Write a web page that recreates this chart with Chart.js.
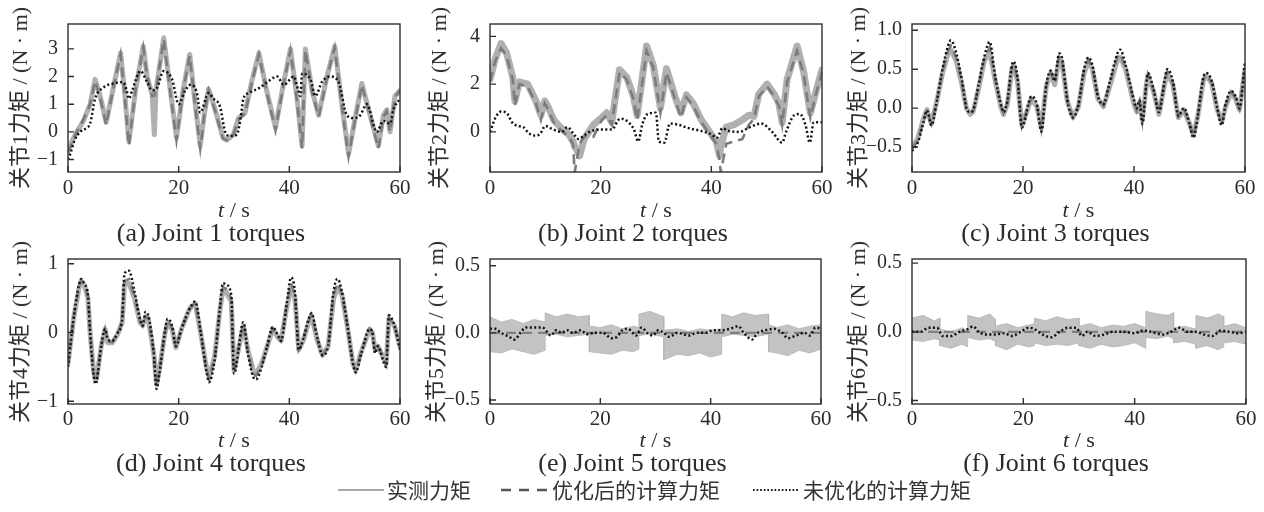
<!DOCTYPE html>
<html><head><meta charset="utf-8">
<script src="https://cdn.jsdelivr.net/npm/chart.js@4.4.1/dist/chart.umd.min.js"></script>
<style>
html,body{margin:0;padding:0;background:#fff;}
#root{position:relative;width:1264px;height:512px;overflow:hidden;background:#fff;}
#root canvas{position:absolute;}
.t{position:absolute;white-space:nowrap;color:#2b2b2b;font-family:"Liberation Serif","Noto Sans CJK SC",serif;line-height:1;}
.c{transform:translate(-50%,-50%);}
.yl{transform:translate(-50%,-50%) rotate(-90deg);font-size:22px;}
.xt{font-size:22px;}
.cap{font-size:26px;}
.lg{font-family:"Noto Sans CJK SC",sans-serif;font-size:21px;color:#333;transform:translateY(-50%);}
svg{position:absolute;overflow:visible;}
</style></head><body><div id="root"></div>
<script>
// ---------- shared ticks ----------
const xTickVals = [0, 20, 40, 60];
const yTicksA = [-1, 0, 1, 2, 3];
const yTicksB = [0, 2, 4];
const yTicksC = [-0.5, 0.0, 0.5, 1.0];
const yTicksD = [-1, 0, 1];
const yTicksE = [-0.5, 0.0, 0.5];
const yTicksF = [-0.5, 0.0, 0.5];

// ---------- (a) joint 1 ----------
const a_t = [0,0.8,1.6,2.8,4.0,4.9,5.8,6.9,8.2,9.5,10.2,11.0,12.2,13.6,14.3,15.2,15.6,15.9,17.3,18.5,19.6,20.8,22.0,23.0,23.9,24.6,25.4,26.6,28.0,28.7,29.9,30.8,32.0,33.3,34.5,36.0,37.5,38.9,40.2,41.4,42.3,42.9,44.1,45.3,46.8,48.2,49.5,50.7,51.9,53.1,54.6,56.1,57.0,57.6,58.2,59.1,60];
const a_meas = [-0.7,-0.3,0.0,0.4,1.0,1.9,1.3,0.35,1.6,2.85,1.5,-0.35,1.5,3.1,2.0,1.35,-0.1,1.5,3.4,1.5,-0.2,1.5,2.8,1.0,-0.5,0.6,1.55,0.8,-0.2,-0.3,-0.1,0.5,0.7,1.9,2.85,1.4,0.15,1.7,3.0,1.2,-0.5,3.0,1.5,0.6,2.0,3.1,1.0,-0.8,0.5,1.75,0.6,-0.5,0.6,0.8,0.0,1.3,1.5];
const a_opt = [-0.75,-0.35,0.0,0.45,1.0,1.85,1.25,0.25,1.6,2.8,1.4,-0.5,1.5,3.05,2.0,1.3,1.3,1.5,3.35,1.4,-0.3,1.5,2.75,0.9,-0.6,0.55,1.5,0.75,-0.25,-0.3,-0.1,0.45,0.65,1.85,2.8,1.35,0.05,1.65,2.95,1.1,-0.6,2.95,1.45,0.55,1.95,3.05,0.9,-0.9,0.45,1.7,0.55,-0.6,0.55,0.75,0.0,1.25,1.5];
const a_tu = [0,0.4,1.2,2.2,3.4,4.0,4.9,6.4,8.2,10.0,10.6,11.0,11.6,13.1,14.3,15.2,16.1,17.3,18.8,20.0,21.2,22.1,23.3,23.9,25.4,26.3,27.5,28.4,29.3,30.5,31.2,31.7,32.6,34.7,36.0,37.8,39.0,40.8,41.6,42.0,42.3,43.8,44.7,45.9,47.4,48.9,50.4,51.6,52.8,54.0,55.8,57.0,57.6,58.2,58.8,60];
const a_unopt = [-1.0,-0.8,-0.3,0.0,0.15,0.3,1.2,1.6,1.75,1.8,1.5,1.2,1.5,2.2,1.8,1.5,1.6,2.2,1.9,1.0,1.5,1.7,1.4,0.7,1.4,1.2,0.9,0.0,-0.15,-0.1,0.5,1.2,1.4,1.6,1.8,2.0,1.7,2.0,1.5,1.3,2.1,1.9,1.3,1.8,2.0,1.8,0.6,0.5,0.6,1.0,0.0,0.4,0.35,0.3,0.8,1.2];

// ---------- (b) joint 2 ----------
const b_t = [0,1.0,2.0,3.0,4.1,4.5,5.3,6.8,8.3,9.2,9.9,10.6,11.5,12.7,14.2,15.0,15.3,16.2,17.0,18.7,20.2,21.1,22.0,23.4,24.7,25.9,26.6,28.3,29.5,30.8,31.9,33.4,34.5,35.5,36.7,38.2,39.7,40.9,41.5,41.7,42.7,44.1,45.6,46.8,47.7,48.6,50.1,51.3,52.2,52.8,53.7,55.5,56.7,57.6,57.9,58.8,60];
const b_meas = [2.2,3.1,3.7,3.3,2.3,1.3,2.1,2.0,1.3,0.7,1.3,1.0,0.5,0.2,-0.1,-0.4,-0.6,-1.0,-0.3,0.3,0.6,0.8,0.4,2.6,2.3,1.5,0.7,3.6,2.8,1.0,2.65,1.5,0.8,1.55,1.2,0.5,0.0,-0.4,-1.0,-0.6,0.2,0.3,0.5,0.7,0.65,1.6,2.0,1.6,1.2,0.4,2.2,3.6,2.5,1.2,0.8,1.6,2.6];
const b_opt = [2.1,3.0,3.5,3.2,2.2,1.1,2.0,1.9,1.2,0.5,1.2,0.9,0.4,0.1,-0.2,-0.5,-1.7,-0.5,-0.2,-0.2,0.5,0.7,0.3,2.5,2.2,1.4,0.5,3.4,2.7,0.8,2.5,1.4,0.6,1.45,1.1,0.4,-0.1,-0.5,-1.2,-1.7,-0.5,-0.4,-0.3,0.3,0.55,1.5,1.9,1.5,1.1,0.3,2.1,3.4,2.4,1.0,0.6,1.5,2.5];
const b_tu = [0,1,2,3,4,5,6,7,8,9,10,11,12,13,14,15,16,17,18,20,22,23.5,24.5,26,26.8,27.5,28.5,30,30.5,31.5,32.5,34,36,38,40,41,42,43,45,47,49,51,52.8,53.5,55,56,57,57.8,58.5,60];
const b_unopt = [0.0,0.6,0.85,0.8,0.4,0.25,0.2,-0.05,-0.15,-0.1,0.25,0.15,0.05,0.0,0.2,-0.05,-0.3,-0.15,0.0,0.1,0.1,0.55,0.5,0.1,-0.4,0.3,0.75,0.8,-0.4,-0.45,0.35,0.3,0.15,0.05,-0.1,-0.25,0.15,0.05,0.0,0.2,0.35,0.0,-0.45,0.0,0.7,0.75,0.3,-0.45,0.4,0.4];

// ---------- (c) joint 3 ----------
const c_t = [0,1,2,2.7,3.5,4.5,5.5,6.5,7,8,9,9.8,10.5,11,12,13,14,15,16,16.5,17.2,18,18.3,19,19.8,21.5,22.5,23.3,24.2,25,25.7,26.5,27,28,29,30,31,31.8,32.5,33.5,34.5,35.5,37,37.5,38.5,40,40.5,41,41.5,42.2,42.5,43.5,44.5,45.5,46,47,48,49,50,50.7,51.5,52.5,53,54,55,55.8,56.5,57.5,58.3,59,60];
const c_meas = [-0.5,-0.4,-0.15,-0.02,-0.2,0.1,0.45,0.7,0.75,0.6,0.3,0.0,-0.08,-0.05,0.25,0.6,0.72,0.35,0.02,-0.08,0.05,0.5,0.55,0.35,-0.22,0.12,0.02,-0.25,0.28,0.45,0.3,0.62,0.6,0.08,-0.12,0.02,0.45,0.6,0.5,0.12,0.02,0.25,0.62,0.65,0.5,0.05,-0.05,0.08,-0.15,0.28,0.42,0.22,-0.08,0.3,0.45,0.3,-0.12,-0.02,-0.2,-0.35,-0.1,0.35,0.42,0.32,-0.02,-0.18,0.02,0.2,0.12,-0.02,0.5];
const c_opt = [-0.52,-0.42,-0.17,-0.02,-0.2,0.1,0.47,0.74,0.8,0.64,0.32,0.0,-0.06,-0.04,0.27,0.62,0.78,0.37,0.03,-0.06,0.07,0.52,0.57,0.37,-0.23,0.13,0.03,-0.27,0.29,0.46,0.32,0.66,0.62,0.09,-0.12,0.03,0.47,0.62,0.52,0.13,0.03,0.27,0.66,0.7,0.52,0.07,-0.03,0.09,-0.17,0.29,0.43,0.23,-0.06,0.32,0.47,0.32,-0.11,-0.01,-0.2,-0.36,-0.1,0.37,0.43,0.33,-0.01,-0.2,0.03,0.21,0.13,-0.01,0.55];
const c_unopt = [-0.55,-0.45,-0.2,-0.03,-0.22,0.1,0.5,0.8,0.87,0.7,0.35,0.0,-0.05,-0.03,0.3,0.65,0.85,0.4,0.05,-0.05,0.1,0.55,0.6,0.4,-0.25,0.15,0.05,-0.3,0.3,0.48,0.35,0.7,0.65,0.1,-0.12,0.05,0.5,0.65,0.55,0.15,0.05,0.3,0.7,0.75,0.55,0.1,0.0,0.1,-0.2,0.3,0.45,0.25,-0.05,0.35,0.5,0.35,-0.1,0.0,-0.2,-0.38,-0.1,0.4,0.45,0.35,0.0,-0.22,0.05,0.22,0.15,0.0,0.6];

// ---------- (d) joint 4 ----------
const d_t = [0,1,2,2.4,3,3.6,4.0,4.6,5.0,5.2,6,6.7,7.2,8,9,9.8,10.2,11,12,13,13.5,14,14.5,15.5,16,16.5,17.5,18,18.8,19.5,20.5,22,23,24,25,25.5,26.5,27.5,28,28.5,29.5,30,31.7,32.5,33.5,34,35,36,37,38,38.5,39.5,40.3,41,41.7,42.5,43.5,44,45,46,47,48,48.7,49.5,50.5,51.5,52,53,54.5,55,55.5,56,57.5,58,59,60];
const d_meas = [-0.45,0.2,0.65,0.75,0.68,0.5,0.0,-0.55,-0.7,-0.65,-0.2,0.05,-0.15,-0.15,-0.02,0.15,0.7,0.72,0.5,0.15,0.1,0.2,0.2,-0.3,-0.75,-0.55,-0.02,0.15,0.05,-0.22,0.05,0.35,0.42,-0.02,-0.5,-0.65,-0.35,0.35,0.62,0.6,0.45,-0.55,0.1,-0.25,-0.55,-0.6,-0.45,-0.2,0.05,-0.08,-0.12,0.35,0.65,0.5,-0.25,-0.12,0.15,0.25,-0.1,-0.33,-0.2,0.5,0.65,0.55,0.08,-0.45,-0.55,-0.28,0.05,0.0,-0.25,-0.2,-0.45,0.2,0.1,-0.2];
const d_opt = [-0.47,0.2,0.67,0.76,0.69,0.52,0.0,-0.57,-0.72,-0.67,-0.2,0.05,-0.13,-0.14,-0.01,0.17,0.75,0.78,0.53,0.17,0.1,0.24,0.22,-0.3,-0.78,-0.57,-0.01,0.17,0.07,-0.21,0.05,0.35,0.43,-0.01,-0.52,-0.68,-0.37,0.37,0.66,0.64,0.5,-0.57,0.12,-0.27,-0.6,-0.63,-0.47,-0.2,0.06,-0.07,-0.12,0.37,0.72,0.55,-0.25,-0.11,0.17,0.26,-0.08,-0.33,-0.2,0.55,0.72,0.57,0.09,-0.45,-0.56,-0.29,0.05,0.0,-0.27,-0.2,-0.47,0.22,0.1,-0.22];
const d_unopt = [-0.5,0.2,0.7,0.78,0.7,0.55,0.0,-0.6,-0.75,-0.7,-0.2,0.05,-0.1,-0.12,0.0,0.2,0.85,0.9,0.6,0.2,0.1,0.3,0.25,-0.3,-0.82,-0.6,0.0,0.2,0.1,-0.2,0.05,0.35,0.45,0.0,-0.55,-0.72,-0.4,0.4,0.72,0.7,0.55,-0.6,0.15,-0.3,-0.65,-0.68,-0.5,-0.2,0.08,-0.05,-0.12,0.4,0.8,0.6,-0.25,-0.1,0.2,0.28,-0.05,-0.33,-0.2,0.6,0.78,0.6,0.1,-0.45,-0.58,-0.3,0.05,0.0,-0.3,-0.2,-0.5,0.25,0.1,-0.25];

// ---------- (e) joint 5 ----------
const e_bt = [0,2,4,6,8,10,10,12,14,16,18,18,20,22,24,26,27,27,29,31.5,31.5,34,36,38,40,42,42,44,46,48,50.5,50.5,52,54,56,58,60];
const e_up = [0.12,0.08,0.1,0.07,0.1,0.08,0.15,0.12,0.14,0.12,0.13,0.05,0.04,0.06,0.03,0.05,0.04,0.14,0.16,0.12,0.02,0.03,0.01,0.03,0.02,0.03,0.14,0.12,0.15,0.13,0.14,0.06,0.04,0.06,0.03,0.05,0.06];
const e_lo = [-0.14,-0.15,-0.12,-0.14,-0.16,-0.13,-0.02,-0.01,-0.03,-0.02,-0.01,-0.14,-0.15,-0.16,-0.13,-0.14,-0.12,-0.02,-0.01,-0.03,-0.2,-0.16,-0.17,-0.15,-0.18,-0.16,-0.03,-0.01,-0.02,-0.03,-0.01,-0.14,-0.15,-0.17,-0.13,-0.15,-0.12];
const e_to = [0,15,30,45,60];
const e_opt = [0.0,0.0,0.0,0.0,0.0];
const e_tu = [0,1,2,3.5,4.5,5.5,6.5,8,9.5,10.5,11,12,13,14,15,16.5,17.5,19,20.5,22,23,24,25,26.5,27.5,28.5,29.5,30.5,31.5,32.5,34,36,37.5,39,40.5,42,43.5,45,46,47.5,48.5,50,51.5,53,54,55.5,57,58,59,60];
const e_unopt = [0.03,0.03,0.0,-0.03,-0.05,0.0,0.04,0.04,0.04,0.0,-0.02,0.02,0.0,0.02,0.0,0.02,-0.01,0.0,0.0,-0.04,-0.03,0.02,0.03,-0.02,0.04,0.0,-0.02,0.02,0.0,-0.03,0.0,-0.02,0.0,0.0,0.02,0.02,0.03,0.05,0.0,-0.05,0.0,0.02,0.03,0.0,-0.04,-0.02,0.0,-0.02,0.04,0.03];

// ---------- (f) joint 6 ----------
const f_bt = [0,2,4,5,5,7,9,10,10,12,14,15,15,17,19,21,22,22,24,26,28,30,30,32,34,36,38,40,42,42,44,46,47,47,49,51,51,53,55,56,56,58,60];
const f_up = [0.1,0.12,0.08,0.1,0.02,0.0,0.03,0.01,0.12,0.1,0.13,0.09,0.04,0.06,0.03,0.05,0.06,0.1,0.08,0.11,0.09,0.1,0.04,0.06,0.03,0.05,0.04,0.06,0.03,0.15,0.13,0.12,0.14,0.03,0.04,0.02,0.12,0.1,0.13,0.11,0.04,0.06,0.03];
const f_lo = [-0.06,-0.07,-0.05,-0.06,-0.1,-0.12,-0.09,-0.11,-0.04,-0.06,-0.05,-0.07,-0.1,-0.13,-0.09,-0.11,-0.1,-0.08,-0.1,-0.09,-0.1,-0.08,-0.1,-0.12,-0.09,-0.11,-0.1,-0.08,-0.12,-0.04,-0.05,-0.03,-0.05,-0.08,-0.07,-0.09,-0.12,-0.1,-0.13,-0.11,-0.08,-0.07,-0.09];
const f_to = [0,15,30,45,60];
const f_opt = [0.0,0.0,0.0,0.0,0.0];
const f_tu = [0,1.5,3,4.5,5.5,7,8.5,10,11,12,13.5,15,16.5,18,19.5,21,22,23.5,25,26.5,28,29.5,30.5,31.5,33,34.5,36,38,40,41.5,43,45,46.5,48,49.5,51,52.5,54,55.5,57,58.5,60];
const f_unopt = [0.0,0.0,0.03,0.03,-0.03,-0.03,0.0,0.02,0.04,0.0,-0.02,-0.02,-0.01,-0.03,0.0,0.03,0.02,-0.02,-0.04,0.0,0.03,0.03,-0.03,0.0,-0.03,-0.02,0.0,0.0,-0.01,0.01,0.0,-0.02,0.0,0.03,0.0,0.0,-0.02,-0.03,0.01,0.0,-0.01,0.0];

// ---------- text ----------
const seriesNames = ['实测力矩', '优化后的计算力矩', '未优化的计算力矩'];
const yTitles = ['关节1力矩 / (N · m)','关节2力矩 / (N · m)','关节3力矩 / (N · m)','关节4力矩 / (N · m)','关节5力矩 / (N · m)','关节6力矩 / (N · m)'];
const captions = ['(a) Joint 1 torques','(b) Joint 2 torques','(c) Joint 3 torques','(d) Joint 4 torques','(e) Joint 5 torques','(f) Joint 6 torques'];

// ---------- build ----------
const root = document.getElementById('root');
const pts = (t, y) => t.map((v, i) => ({x: v, y: y[i]}));
const fmt = dec => v => (v < 0 ? '\u2212' : '') + Math.abs(v).toFixed(dec);

const lineSeries = (meas, opt, unopt, mw) => [
  {label: seriesNames[0], data: meas, borderColor: '#b0b0b0', borderWidth: mw, pointRadius: 0, tension: 0, borderJoinStyle: 'round', borderCapStyle: 'round', order: 3},
  {label: seriesNames[1], data: opt, borderColor: '#7c7c7c', borderWidth: 2.6, borderDash: [10, 6], pointRadius: 0, tension: 0, order: 2},
  {label: seriesNames[2], data: unopt, borderColor: '#111', borderWidth: 2.5, borderDash: [2, 2.4], pointRadius: 0, cubicInterpolationMode: 'monotone', order: 1}
];
const bandSeries = (up, lo, opt, unopt) => [
  {label: seriesNames[0], data: up, borderColor: 'rgba(180,180,180,0.8)', borderWidth: 1, pointRadius: 0, fill: false, order: 3},
  {label: seriesNames[0] + ' ', data: lo, borderColor: 'rgba(180,180,180,0.8)', borderWidth: 1, pointRadius: 0, fill: '-1', backgroundColor: 'rgba(185,185,185,0.85)', order: 3},
  {label: seriesNames[1], data: opt, borderColor: '#808080', borderWidth: 2.2, borderDash: [10, 6], pointRadius: 0, order: 2},
  {label: seriesNames[2], data: unopt, borderColor: '#111', borderWidth: 2.5, borderDash: [2, 2.4], pointRadius: 0, cubicInterpolationMode: 'monotone', order: 1}
];

const panels = [
  {plot: [68, 24, 400, 172], row: 0, yoff: 48, yr: [-1.45, 3.9], yt: yTicksA, dec: 0, ds: lineSeries(pts(a_t, a_meas), pts(a_t, a_opt), pts(a_tu, a_unopt), 5)},
  {plot: [490, 24, 822, 172], row: 0, yoff: 51, yr: [-1.68, 4.52], yt: yTicksB, dec: 0, ds: lineSeries(pts(b_t, b_meas), pts(b_t, b_opt), pts(b_tu, b_unopt), 7)},
  {plot: [912, 24, 1245, 172], row: 0, yoff: 54, yr: [-0.82, 1.08], yt: yTicksC, dec: 1, ds: lineSeries(pts(c_t, c_meas), pts(c_t, c_opt), pts(c_t, c_unopt), 5)},
  {plot: [68, 259, 400, 404], row: 1, yoff: 48, yr: [-1.04, 1.07], yt: yTicksD, dec: 0, ds: lineSeries(pts(d_t, d_meas), pts(d_t, d_opt), pts(d_t, d_unopt), 5)},
  {plot: [490, 259, 821, 404], row: 1, yoff: 54, yr: [-0.53, 0.55], yt: yTicksE, dec: 1, ds: bandSeries(pts(e_bt, e_up), pts(e_bt, e_lo), pts(e_to, e_opt), pts(e_tu, e_unopt))},
  {plot: [912, 259, 1246, 404], row: 1, yoff: 54, yr: [-0.525, 0.53], yt: yTicksF, dec: 1, ds: bandSeries(pts(f_bt, f_up), pts(f_bt, f_lo), pts(f_to, f_opt), pts(f_tu, f_unopt))}
];

const framePlugin = {
  id: 'frame',
  afterDatasetsDraw(chart) {
    const {ctx, chartArea: ca, scales: {x, y}} = chart;
    ctx.save();
    ctx.strokeStyle = '#2e2e2e';
    ctx.lineWidth = 1.4;
    ctx.strokeRect(ca.left, ca.top, ca.right - ca.left, ca.bottom - ca.top);
    ctx.beginPath();
    x.ticks.forEach(t => { const px = x.getPixelForValue(t.value); ctx.moveTo(px, ca.bottom); ctx.lineTo(px, ca.bottom - 6); });
    y.ticks.forEach(t => { const py = y.getPixelForValue(t.value); ctx.moveTo(ca.left, py); ctx.lineTo(ca.left + 6, py); });
    ctx.stroke();
    ctx.restore();
  }
};

const YW = 70, PR = 22, XH = 40;
const rowTop = [0, 236];
const tickFont = {family: '"Liberation Serif", serif', size: 20};

panels.forEach((p, i) => {
  const [L, T, R, B] = p.plot;
  const cTop = rowTop[p.row];
  const padTop = T - cTop;
  const w = (R - L) + YW + PR;
  const h = padTop + (B - T) + XH;
  const cv = document.createElement('canvas');
  cv.width = w; cv.height = h;
  cv.style.left = (L - YW) + 'px'; cv.style.top = cTop + 'px';
  cv.style.width = w + 'px'; cv.style.height = h + 'px';
  root.appendChild(cv);
  new Chart(cv.getContext('2d'), {
    type: 'line',
    data: {datasets: p.ds},
    options: {
      responsive: false, animation: false, devicePixelRatio: 1,
      layout: {padding: {left: 0, top: padTop, right: PR, bottom: 0}},
      plugins: {legend: {display: false}, tooltip: {enabled: false}},
      elements: {line: {fill: false}},
      scales: {
        x: {type: 'linear', min: 0, max: 60,
            afterBuildTicks: s => { s.ticks = xTickVals.map(v => ({value: v})); },
            afterFit: s => { s.height = XH; },
            ticks: {font: {family: '"Liberation Serif", serif', size: 21}, color: '#2b2b2b', padding: p.row === 0 ? -4 : -5, maxRotation: 0, callback: fmt(0)},
            grid: {display: false}, border: {display: false}},
        y: {type: 'linear', min: p.yr[0], max: p.yr[1],
            afterBuildTicks: s => { s.ticks = p.yt.map(v => ({value: v})); },
            afterFit: s => { s.width = YW; },
            ticks: {font: tickFont, color: '#2b2b2b', padding: 2, callback: fmt(p.dec)},
            grid: {display: false}, border: {display: false}}
      }
    },
    plugins: [framePlugin]
  });

  const mid = (L + R) / 2;
  const yl = document.createElement('div');
  yl.className = 't yl'; yl.textContent = yTitles[i];
  yl.style.left = (L - p.yoff) + 'px'; yl.style.top = ((T + B) / 2) + 'px';
  root.appendChild(yl);

  const xt = document.createElement('div');
  xt.className = 't c xt';
  xt.innerHTML = '<i>t</i> / s';
  xt.style.left = mid + 'px'; xt.style.top = (p.row === 0 ? 210 : 440) + 'px';
  root.appendChild(xt);

  const cap = document.createElement('div');
  cap.className = 't c cap'; cap.textContent = captions[i];
  cap.style.left = (mid - 23) + 'px'; cap.style.top = (p.row === 0 ? 233 : 463) + 'px';
  root.appendChild(cap);
});

// ---------- legend ----------
const legendItems = [
  {x1: 338, x2: 384, tx: 387, stroke: '#8e8e8e', w: 1.4, dash: ''},
  {x1: 501, x2: 547, tx: 552, stroke: '#555', w: 2.4, dash: '10 8'},
  {x1: 753, x2: 799, tx: 803, stroke: '#111', w: 2, dash: '1.6 2'}
];
const LY = 490;
legendItems.forEach((it, k) => {
  const svg = document.createElementNS('http://www.w3.org/2000/svg', 'svg');
  svg.setAttribute('width', '1264'); svg.setAttribute('height', '512');
  svg.style.left = '0px'; svg.style.top = '0px';
  const ln = document.createElementNS('http://www.w3.org/2000/svg', 'line');
  ln.setAttribute('x1', it.x1); ln.setAttribute('x2', it.x2);
  ln.setAttribute('y1', LY); ln.setAttribute('y2', LY);
  ln.setAttribute('stroke', it.stroke); ln.setAttribute('stroke-width', it.w);
  if (it.dash) ln.setAttribute('stroke-dasharray', it.dash);
  svg.appendChild(ln);
  root.appendChild(svg);
  const tx = document.createElement('div');
  tx.className = 't lg'; tx.textContent = seriesNames[k];
  tx.style.left = it.tx + 'px'; tx.style.top = (LY - 1) + 'px';
  root.appendChild(tx);
});
</script>
</body></html>
